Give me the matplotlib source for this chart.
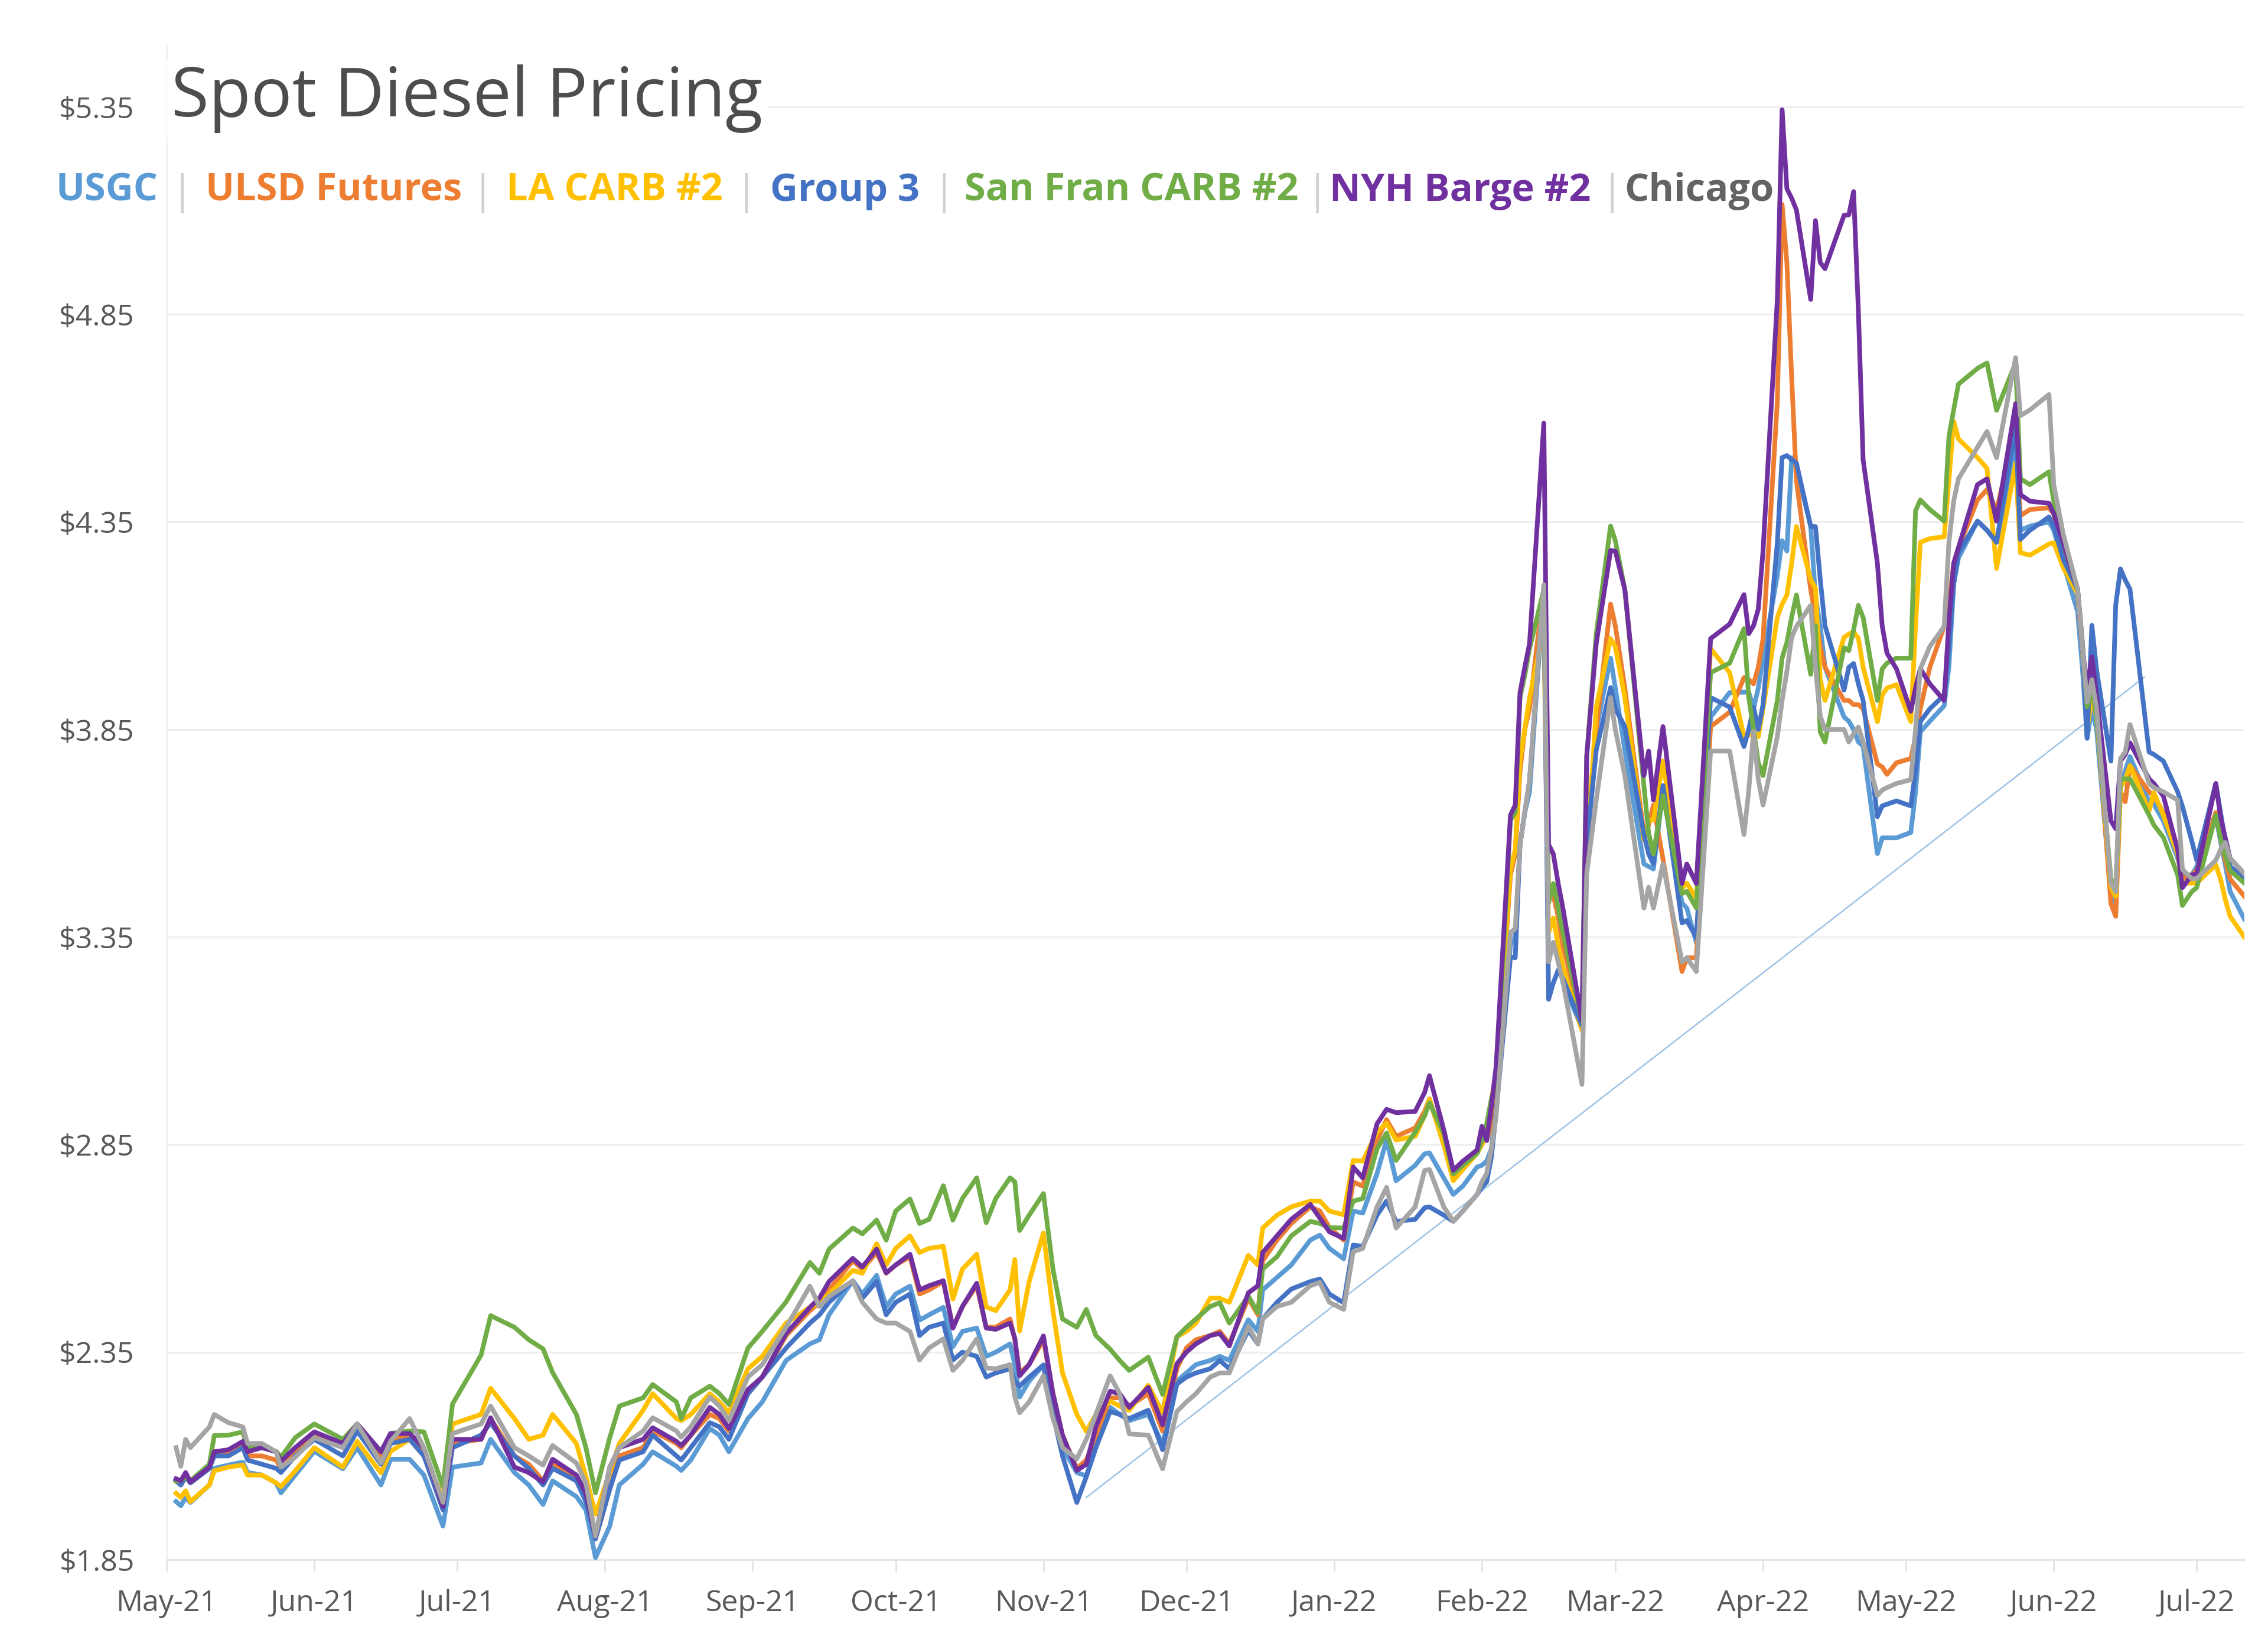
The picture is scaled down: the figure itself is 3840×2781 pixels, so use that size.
import matplotlib
matplotlib.use('Agg')
import matplotlib.pyplot as plt
import matplotlib.dates as mdates
import matplotlib.ticker as mticker
import pandas as pd

plt.rcParams['font.family'] = ['Open Sans', 'DejaVu Sans']

# ---------------------------------------------------------------- data
DATES = [
    '2021-05-03', '2021-05-04', '2021-05-05', '2021-05-06', '2021-05-10', '2021-05-11', '2021-05-14', '2021-05-17', '2021-05-18', '2021-05-21',
    '2021-05-24', '2021-05-25', '2021-05-28', '2021-06-01', '2021-06-07', '2021-06-10', '2021-06-15', '2021-06-17', '2021-06-21', '2021-06-24',
    '2021-06-28', '2021-06-30', '2021-07-06', '2021-07-08', '2021-07-13', '2021-07-16', '2021-07-19', '2021-07-21', '2021-07-26', '2021-07-28',
    '2021-07-30', '2021-08-02', '2021-08-04', '2021-08-09', '2021-08-11', '2021-08-16', '2021-08-17', '2021-08-19', '2021-08-23', '2021-08-25',
    '2021-08-27', '2021-08-31', '2021-09-03', '2021-09-08', '2021-09-13', '2021-09-15', '2021-09-17', '2021-09-22', '2021-09-24', '2021-09-27',
    '2021-09-29', '2021-10-01', '2021-10-04', '2021-10-06', '2021-10-08', '2021-10-11', '2021-10-13', '2021-10-15', '2021-10-18', '2021-10-20',
    '2021-10-22', '2021-10-25', '2021-10-26', '2021-10-27', '2021-10-29', '2021-11-01', '2021-11-03', '2021-11-05', '2021-11-08', '2021-11-10',
    '2021-11-12', '2021-11-15', '2021-11-17', '2021-11-19', '2021-11-23', '2021-11-26', '2021-11-29', '2021-12-01', '2021-12-03', '2021-12-06',
    '2021-12-08', '2021-12-10', '2021-12-14', '2021-12-16', '2021-12-17', '2021-12-20', '2021-12-23', '2021-12-27', '2021-12-29', '2021-12-31',
    '2022-01-03', '2022-01-05', '2022-01-07', '2022-01-10', '2022-01-12', '2022-01-14', '2022-01-18', '2022-01-20', '2022-01-21', '2022-01-24',
    '2022-01-26', '2022-01-28', '2022-01-31', '2022-02-01', '2022-02-02', '2022-02-03', '2022-02-04', '2022-02-07', '2022-02-08', '2022-02-09',
    '2022-02-10', '2022-02-11', '2022-02-14', '2022-02-15', '2022-02-16', '2022-02-17', '2022-02-18', '2022-02-22', '2022-02-23', '2022-02-25',
    '2022-02-28', '2022-03-01', '2022-03-03', '2022-03-07', '2022-03-08', '2022-03-09', '2022-03-11', '2022-03-15', '2022-03-16', '2022-03-18',
    '2022-03-21', '2022-03-25', '2022-03-28', '2022-03-29', '2022-03-30', '2022-03-31', '2022-04-01', '2022-04-04', '2022-04-05', '2022-04-06',
    '2022-04-07', '2022-04-08', '2022-04-11', '2022-04-12', '2022-04-13', '2022-04-14', '2022-04-18', '2022-04-19', '2022-04-20', '2022-04-21',
    '2022-04-22', '2022-04-25', '2022-04-26', '2022-04-27', '2022-04-29', '2022-05-02', '2022-05-03', '2022-05-04', '2022-05-06', '2022-05-09',
    '2022-05-10', '2022-05-11', '2022-05-12', '2022-05-16', '2022-05-18', '2022-05-20', '2022-05-24', '2022-05-25', '2022-05-27', '2022-05-31',
    '2022-06-01', '2022-06-03', '2022-06-06', '2022-06-07', '2022-06-08', '2022-06-09', '2022-06-10', '2022-06-13', '2022-06-14', '2022-06-15',
    '2022-06-16', '2022-06-17', '2022-06-21', '2022-06-22', '2022-06-24', '2022-06-27', '2022-06-28', '2022-06-30', '2022-07-01', '2022-07-05',
    '2022-07-06', '2022-07-07', '2022-07-08', '2022-07-11',
]

USGC = [
    1.99, 1.98, 2.0, 1.988, 2.03, 2.07, 2.078, 2.085, 2.06, 2.054,
    2.035, 2.011, 2.054, 2.111, 2.069, 2.12, 2.03, 2.092, 2.092, 2.054,
    1.931, 2.073, 2.083, 2.14, 2.06, 2.03, 1.983, 2.04, 2.002, 1.97,
    1.855, 1.931, 2.03, 2.08, 2.11, 2.075, 2.065, 2.09, 2.166, 2.15,
    2.11, 2.19, 2.23, 2.33, 2.37, 2.38, 2.44, 2.522, 2.49, 2.535,
    2.46, 2.49, 2.509, 2.427, 2.44, 2.458, 2.363, 2.40, 2.408, 2.34,
    2.35, 2.37, 2.319, 2.242, 2.28, 2.319, 2.2, 2.12, 2.06, 2.052,
    2.12, 2.217, 2.2, 2.185, 2.2, 2.128, 2.28, 2.30, 2.32, 2.33,
    2.34, 2.33, 2.428, 2.40, 2.50, 2.53, 2.56, 2.62, 2.632, 2.60,
    2.575, 2.69, 2.685, 2.78, 2.861, 2.763, 2.80, 2.828, 2.83, 2.77,
    2.73, 2.75, 2.796, 2.80, 2.81, 2.84, 2.95, 3.33, 3.35, 3.573,
    3.65, 3.70, 4.19, 3.29, 3.337, 3.30, 3.24, 3.13, 3.573, 3.85,
    4.022, 3.95, 3.80, 3.526, 3.52, 3.514, 3.703, 3.432, 3.42, 3.337,
    3.88, 3.939, 3.94, 3.94, 3.90, 3.95, 4.022, 4.222, 4.305, 4.28,
    4.505, 4.48, 4.34, 4.17, 4.1, 4.0, 3.88, 3.87, 3.85, 3.82,
    3.81, 3.551, 3.589, 3.589, 3.589, 3.602, 3.70, 3.844, 3.87, 3.907,
    4.0, 4.2, 4.263, 4.352, 4.33, 4.301, 4.537, 4.33, 4.34, 4.35,
    4.33, 4.25, 4.134, 4.0, 3.829, 3.90, 3.85, 3.45, 3.415, 3.72,
    3.75, 3.785, 3.676, 3.67, 3.63, 3.54, 3.50, 3.50, 3.52, 3.644,
    3.58, 3.524, 3.46, 3.393,
]

ULSD_FUTURES = [
    2.04, 2.03, 2.05, 2.035, 2.07, 2.11, 2.11, 2.13, 2.1, 2.1,
    2.09, 2.07, 2.11, 2.15, 2.12, 2.17, 2.1, 2.14, 2.15, 2.11,
    1.98, 2.13, 2.14, 2.19, 2.1, 2.08, 2.04, 2.08, 2.05, 2.0,
    1.9, 2.02, 2.1, 2.12, 2.16, 2.13, 2.12, 2.15, 2.2, 2.19,
    2.16, 2.25, 2.29, 2.39, 2.45, 2.47, 2.5, 2.57, 2.55, 2.59,
    2.54, 2.56, 2.58, 2.49, 2.5, 2.52, 2.41, 2.46, 2.51, 2.41,
    2.41, 2.43, 2.38, 2.3, 2.32, 2.38, 2.25, 2.15, 2.07, 2.09,
    2.15, 2.24, 2.24, 2.22, 2.25, 2.16, 2.31, 2.36, 2.38, 2.39,
    2.40, 2.37, 2.48, 2.44, 2.57, 2.62, 2.66, 2.7, 2.69, 2.65,
    2.62, 2.76, 2.75, 2.86, 2.91, 2.87, 2.89, 2.93, 2.96, 2.85,
    2.78, 2.80, 2.83, 2.87, 2.86, 2.90, 3.0, 3.5, 3.55, 3.75,
    3.85, 3.90, 4.19, 3.45, 3.45, 3.40, 3.33, 3.14, 3.6, 3.85,
    4.152, 4.10, 3.95, 3.60, 3.62, 3.668, 3.538, 3.267, 3.30, 3.30,
    3.857, 3.892, 3.975, 3.97, 3.96, 4.0, 4.069, 4.64, 5.115, 4.975,
    4.7, 4.45, 4.187, 4.123, 4.05, 4.0, 3.92, 3.92, 3.91, 3.91,
    3.90, 3.767, 3.76, 3.742, 3.77, 3.78, 3.831, 3.9, 4.0, 4.098,
    4.15, 4.25, 4.288, 4.403, 4.428, 4.377, 4.58, 4.365, 4.38, 4.384,
    4.37, 4.27, 4.177, 4.05, 3.87, 3.95, 3.9, 3.43, 3.40, 3.70,
    3.676, 3.763, 3.70, 3.69, 3.65, 3.56, 3.49, 3.50, 3.51, 3.65,
    3.59, 3.535, 3.49, 3.448,
]

LA_CARB = [
    2.01, 2.0, 2.016, 1.99, 2.03, 2.064, 2.073, 2.078, 2.054, 2.054,
    2.035, 2.026, 2.064, 2.12, 2.073, 2.135, 2.059, 2.111, 2.14, 2.10,
    2.0, 2.177, 2.20, 2.263, 2.19, 2.14, 2.15, 2.20, 2.13, 2.05,
    1.96, 2.06, 2.13, 2.21, 2.25, 2.19, 2.185, 2.2, 2.25, 2.23,
    2.204, 2.31, 2.34, 2.42, 2.458, 2.47, 2.49, 2.547, 2.54, 2.611,
    2.56, 2.6, 2.63, 2.59, 2.6, 2.605, 2.478, 2.55, 2.586, 2.459,
    2.45, 2.50, 2.573, 2.401, 2.52, 2.637, 2.45, 2.3, 2.2, 2.159,
    2.2, 2.232, 2.22, 2.21, 2.27, 2.204, 2.387, 2.40, 2.42, 2.48,
    2.48, 2.47, 2.583, 2.56, 2.649, 2.68, 2.70, 2.714, 2.714, 2.69,
    2.681, 2.812, 2.81, 2.88, 2.902, 2.861, 2.87, 2.92, 2.959, 2.85,
    2.763, 2.79, 2.829, 2.85, 2.87, 2.96, 3.02, 3.514, 3.56, 3.774,
    3.85, 3.927, 4.093, 3.361, 3.396, 3.33, 3.278, 3.125, 3.526, 3.904,
    4.069, 4.05, 3.927, 3.585, 3.632, 3.632, 3.774, 3.467, 3.48, 3.443,
    4.045, 3.987, 3.833, 3.84, 3.833, 3.833, 3.90, 4.12, 4.152, 4.174,
    4.25, 4.339, 4.212, 4.19, 3.97, 3.92, 4.072, 4.08, 4.085, 4.07,
    4.0, 3.869, 3.933, 3.95, 3.958, 3.869, 4.1, 4.301, 4.31, 4.314,
    4.45, 4.593, 4.55, 4.505, 4.479, 4.238, 4.492, 4.276, 4.27, 4.297,
    4.30, 4.24, 4.177, 4.05, 3.85, 3.93, 3.88, 3.47, 3.448, 3.71,
    3.73, 3.763, 3.654, 3.698, 3.644, 3.55, 3.48, 3.48, 3.48, 3.524,
    3.49, 3.44, 3.40, 3.35,
]

GROUP_3 = [
    2.04, 2.03, 2.05, 2.035, 2.07, 2.1, 2.1, 2.12, 2.09, 2.08,
    2.07, 2.06, 2.1, 2.14, 2.1, 2.16, 2.08, 2.13, 2.14, 2.1,
    1.97, 2.12, 2.15, 2.18, 2.1, 2.07, 2.03, 2.07, 2.04, 1.99,
    1.9, 2.02, 2.09, 2.11, 2.15, 2.10, 2.09, 2.12, 2.18, 2.17,
    2.14, 2.25, 2.29, 2.36, 2.42, 2.44, 2.47, 2.522, 2.48, 2.52,
    2.44, 2.47, 2.49, 2.39, 2.41, 2.42, 2.331, 2.35, 2.34, 2.29,
    2.3, 2.31, 2.28, 2.268, 2.29, 2.319, 2.2, 2.10, 1.988, 2.05,
    2.12, 2.207, 2.2, 2.19, 2.21, 2.115, 2.273, 2.29, 2.30, 2.31,
    2.33, 2.31, 2.403, 2.37, 2.43, 2.47, 2.502, 2.52, 2.526, 2.49,
    2.469, 2.608, 2.605, 2.68, 2.714, 2.665, 2.67, 2.698, 2.70, 2.68,
    2.665, 2.69, 2.73, 2.747, 2.76, 2.82, 2.93, 3.302, 3.30, 3.573,
    3.65, 3.727, 4.19, 3.20, 3.24, 3.27, 3.25, 3.137, 3.573, 3.80,
    3.951, 3.90, 3.857, 3.597, 3.55, 3.526, 3.715, 3.384, 3.39, 3.349,
    3.927, 3.904, 3.809, 3.85, 3.904, 3.85, 3.91, 4.30, 4.505, 4.51,
    4.50, 4.492, 4.339, 4.339, 4.212, 4.10, 3.945, 4.0, 4.009, 3.96,
    3.92, 3.64, 3.666, 3.67, 3.678, 3.666, 3.75, 3.869, 3.90, 3.933,
    4.05, 4.2, 4.276, 4.352, 4.33, 4.301, 4.58, 4.308, 4.33, 4.362,
    4.34, 4.26, 4.188, 4.06, 3.829, 4.101, 3.992, 3.774, 4.15, 4.237,
    4.21, 4.188, 3.796, 3.79, 3.774, 3.70, 3.665, 3.58, 3.535, 3.72,
    3.65, 3.58, 3.52, 3.491,
]

SAN_FRAN_CARB = [
    2.04, 2.04, 2.05, 2.04, 2.08, 2.149, 2.15, 2.158, 2.12, 2.12,
    2.111, 2.097, 2.144, 2.177, 2.14, 2.177, 2.11, 2.154, 2.16, 2.158,
    2.026, 2.225, 2.343, 2.438, 2.41, 2.38, 2.358, 2.301, 2.2, 2.12,
    2.011, 2.144, 2.22, 2.24, 2.272, 2.23, 2.19, 2.24, 2.268, 2.25,
    2.224, 2.36, 2.4, 2.471, 2.566, 2.54, 2.598, 2.649, 2.635, 2.668,
    2.62, 2.69, 2.719, 2.66, 2.67, 2.751, 2.668, 2.72, 2.77, 2.662,
    2.72, 2.77, 2.76, 2.643, 2.68, 2.732, 2.55, 2.43, 2.41, 2.453,
    2.39, 2.357, 2.33, 2.306, 2.338, 2.248, 2.387, 2.41, 2.43, 2.46,
    2.469, 2.42, 2.485, 2.445, 2.55, 2.58, 2.63, 2.665, 2.66, 2.65,
    2.649, 2.714, 2.72, 2.84, 2.878, 2.812, 2.88, 2.92, 2.951, 2.877,
    2.779, 2.80, 2.829, 2.86, 2.90, 2.96, 3.0, 3.632, 3.65, 3.927,
    3.98, 4.045, 4.187, 3.432, 3.479, 3.42, 3.361, 3.148, 3.786, 4.081,
    4.34, 4.305, 4.187, 3.715, 3.60, 3.55, 3.691, 3.455, 3.46, 3.42,
    3.987, 4.01, 4.093, 3.927, 3.85, 3.77, 3.739, 3.92, 4.022, 4.06,
    4.12, 4.174, 3.983, 4.1, 3.844, 3.82, 4.047, 4.04, 4.09, 4.149,
    4.12, 3.92, 3.996, 4.01, 4.022, 4.022, 4.377, 4.403, 4.38, 4.352,
    4.555, 4.62, 4.682, 4.72, 4.733, 4.619, 4.733, 4.454, 4.44, 4.471,
    4.40, 4.30, 4.188, 4.06, 3.905, 3.95, 3.88, 3.49, 3.47, 3.731,
    3.731, 3.731, 3.644, 3.62, 3.59, 3.50, 3.426, 3.46, 3.469, 3.644,
    3.59, 3.546, 3.51, 3.48,
]

NYH_BARGE = [
    2.045, 2.04, 2.06, 2.037, 2.073, 2.11, 2.115, 2.135, 2.11, 2.12,
    2.11, 2.087, 2.12, 2.158, 2.13, 2.177, 2.11, 2.154, 2.154, 2.12,
    1.978, 2.14, 2.14, 2.192, 2.073, 2.06, 2.037, 2.092, 2.054, 2.01,
    1.907, 2.073, 2.12, 2.14, 2.168, 2.135, 2.125, 2.15, 2.217, 2.2,
    2.166, 2.26, 2.29, 2.395, 2.458, 2.48, 2.52, 2.576, 2.555, 2.598,
    2.541, 2.56, 2.586, 2.5, 2.51, 2.522, 2.408, 2.46, 2.516, 2.408,
    2.405, 2.42, 2.383, 2.293, 2.32, 2.389, 2.25, 2.15, 2.065, 2.08,
    2.17, 2.256, 2.25, 2.217, 2.265, 2.175, 2.322, 2.35, 2.37, 2.39,
    2.395, 2.365, 2.493, 2.51, 2.59, 2.63, 2.67, 2.706, 2.673, 2.64,
    2.624, 2.796, 2.77, 2.90, 2.935, 2.927, 2.93, 2.976, 3.016, 2.886,
    2.788, 2.81, 2.837, 2.894, 2.86, 2.943, 3.04, 3.644, 3.668, 3.939,
    4.0, 4.057, 4.588, 3.573, 3.55, 3.48, 3.42, 3.148, 3.786, 4.057,
    4.281, 4.28, 4.187, 3.739, 3.798, 3.68, 3.857, 3.479, 3.526, 3.479,
    4.069, 4.104, 4.175, 4.081, 4.10, 4.14, 4.281, 4.886, 5.343, 5.153,
    5.13, 5.102, 4.886, 5.076, 4.975, 4.96, 5.089, 5.09, 5.146, 4.86,
    4.5, 4.25, 4.1, 4.034, 3.996, 3.894, 3.95, 3.996, 3.96, 3.92,
    4.111, 4.25, 4.288, 4.44, 4.454, 4.352, 4.635, 4.416, 4.40, 4.395,
    4.37, 4.30, 4.188, 4.047, 3.949, 4.025, 3.93, 3.63, 3.611, 3.774,
    3.79, 3.818, 3.731, 3.72, 3.69, 3.56, 3.469, 3.50, 3.502, 3.72,
    3.64, 3.589, 3.54, 3.502,
]

CHICAGO = [
    2.12, 2.075, 2.14, 2.12, 2.17, 2.2, 2.18, 2.17, 2.13, 2.13,
    2.11, 2.073, 2.097, 2.144, 2.12, 2.177, 2.083, 2.135, 2.19, 2.12,
    1.988, 2.154, 2.177, 2.22, 2.12, 2.10, 2.078, 2.125, 2.083, 2.035,
    1.907, 2.073, 2.12, 2.16, 2.192, 2.16, 2.145, 2.17, 2.242, 2.22,
    2.185, 2.29, 2.32, 2.41, 2.509, 2.46, 2.484, 2.522, 2.47, 2.43,
    2.42, 2.42, 2.40, 2.331, 2.36, 2.382, 2.306, 2.33, 2.382, 2.312,
    2.31, 2.32, 2.242, 2.204, 2.23, 2.293, 2.19, 2.12, 2.093, 2.14,
    2.2, 2.293, 2.25, 2.153, 2.15, 2.069, 2.207, 2.23, 2.25, 2.29,
    2.30, 2.30, 2.412, 2.37, 2.43, 2.46, 2.47, 2.51, 2.518, 2.47,
    2.453, 2.592, 2.6, 2.70, 2.747, 2.649, 2.70, 2.788, 2.79, 2.70,
    2.665, 2.69, 2.73, 2.76, 2.78, 2.84, 2.92, 3.361, 3.37, 3.573,
    3.65, 3.727, 4.199, 3.29, 3.337, 3.29, 3.243, 2.995, 3.503, 3.68,
    3.927, 3.85, 3.739, 3.42, 3.47, 3.42, 3.526, 3.29, 3.30, 3.267,
    3.798, 3.798, 3.597, 3.703, 3.845, 3.73, 3.668, 3.833, 3.92, 3.99,
    4.072, 4.098, 4.149, 4.0, 3.882, 3.85, 3.85, 3.82, 3.84, 3.856,
    3.82, 3.691, 3.704, 3.71, 3.72, 3.729, 3.85, 3.996, 4.05, 4.098,
    4.301, 4.40, 4.454, 4.53, 4.568, 4.505, 4.746, 4.606, 4.62, 4.657,
    4.44, 4.32, 4.188, 4.05, 3.916, 3.97, 3.90, 3.48, 3.459, 3.78,
    3.796, 3.862, 3.72, 3.71, 3.70, 3.68, 3.513, 3.49, 3.491, 3.535,
    3.56, 3.578, 3.54, 3.502,
]

TREND_DATES = ['2021-11-10', '2022-06-20']
TREND_VALUES = [2.00, 3.976]

SERIES_NAMES = ['USGC', 'ULSD Futures', 'LA CARB #2', 'Group 3',
                'San Fran CARB #2', 'NYH Barge #2', 'Chicago']
Y_TICKS = [1.85, 2.35, 2.85, 3.35, 3.85, 4.35, 4.85, 5.35]
TITLE = 'Spot Diesel Pricing'

# ---------------------------------------------------------------- style
COLORS = ['#5B9BD5', '#ED7D31', '#FFC000', '#4472C4', '#70AD47', '#7030A0', '#A5A5A5']
LEGEND_COLORS = ['#5B9BD5', '#ED7D31', '#FFC000', '#4472C4', '#70AD47', '#7030A0', '#636363']
LEGEND_X = [94, 348, 857, 1304, 1633, 2251, 2750]
SEP_X = [308, 817, 1263, 1598, 2230, 2729]
LEGEND_TARGET_W = [174, 429, 362, 259, 575, 440, 250]

W, H, DPI = 3840, 2781, 300
fig = plt.figure(figsize=(W / DPI, H / DPI), dpi=DPI)
fig.patch.set_facecolor('white')


def fx(px):
    return px / W


def fy(py):
    return 1 - py / H


ax = fig.add_axes([fx(282), fy(2640), fx(3800) - fx(282), fy(77) - fy(2640)])

dates = pd.to_datetime(DATES)
all_series = [USGC, ULSD_FUTURES, LA_CARB, GROUP_3, SAN_FRAN_CARB, NYH_BARGE, CHICAGO]
for vals, col, name in zip(all_series, COLORS, SERIES_NAMES):
    ax.plot(dates, vals, color=col, lw=1.9, label=name, solid_joinstyle='round', zorder=3)

ax.plot(pd.to_datetime(TREND_DATES), TREND_VALUES, color='#9DC3E6', lw=0.6, zorder=2)

ax.set_xlim(pd.Timestamp('2021-05-01'), pd.Timestamp('2022-07-11'))
ax.set_ylim(1.85, 1.85 + 2563 / 702.6)

ax.set_yticks(Y_TICKS)
ax.yaxis.set_major_formatter(mticker.FuncFormatter(lambda v, p: f'${v:.2f}'))
ax.xaxis.set_major_locator(mdates.MonthLocator())
ax.xaxis.set_major_formatter(mdates.DateFormatter('%b-%y'))

ax.grid(axis='y', color='#EFEFEF', lw=0.8, zorder=0)
ax.set_axisbelow(True)
for s in ['top', 'right']:
    ax.spines[s].set_visible(False)
ax.spines['left'].set_color('#F0F0F0')
ax.spines['left'].set_linewidth(0.6)
ax.spines['bottom'].set_color('#E6E6E6')
ax.spines['bottom'].set_linewidth(0.8)

ax.tick_params(axis='y', length=0, pad=13, labelsize=12, labelcolor='#595959')
ax.tick_params(axis='x', length=4.8, width=0.6, color='#E0E0E0', direction='out',
               pad=7, labelsize=12, labelcolor='#595959')

# ---------------------------------------------------------------- texts
fig.canvas.draw()
renderer = fig.canvas.get_renderer()


def fit(t, target):
    w = t.get_window_extent(renderer).width
    t.set_fontsize(t.get_fontsize() * target / w)


title = fig.text(fx(290), fy(197), TITLE, fontsize=30, color='#4D4D4D', va='baseline', ha='left',
                 bbox=dict(facecolor='white', edgecolor='none', pad=2), zorder=5)
fit(title, 1001)

leg_texts = []
for name, x, col in zip(SERIES_NAMES, LEGEND_X, LEGEND_COLORS):
    t = fig.text(fx(x), fy(340), name, fontsize=16, fontweight='bold', color=col,
                 va='baseline', ha='left', zorder=5)
    leg_texts.append(t)
fig.canvas.draw()
tot_w = sum(t.get_window_extent(renderer).width for t in leg_texts)
scale = sum(LEGEND_TARGET_W) / tot_w
for t in leg_texts:
    t.set_fontsize(t.get_fontsize() * scale)
leg_fs = leg_texts[0].get_fontsize()
for x in SEP_X:
    fig.text(fx(x), fy(345), '|', fontsize=leg_fs * 1.05, color='#D0D0D0', va='baseline', ha='center', zorder=5)

fig.savefig('out.png', dpi=DPI, facecolor='white')
